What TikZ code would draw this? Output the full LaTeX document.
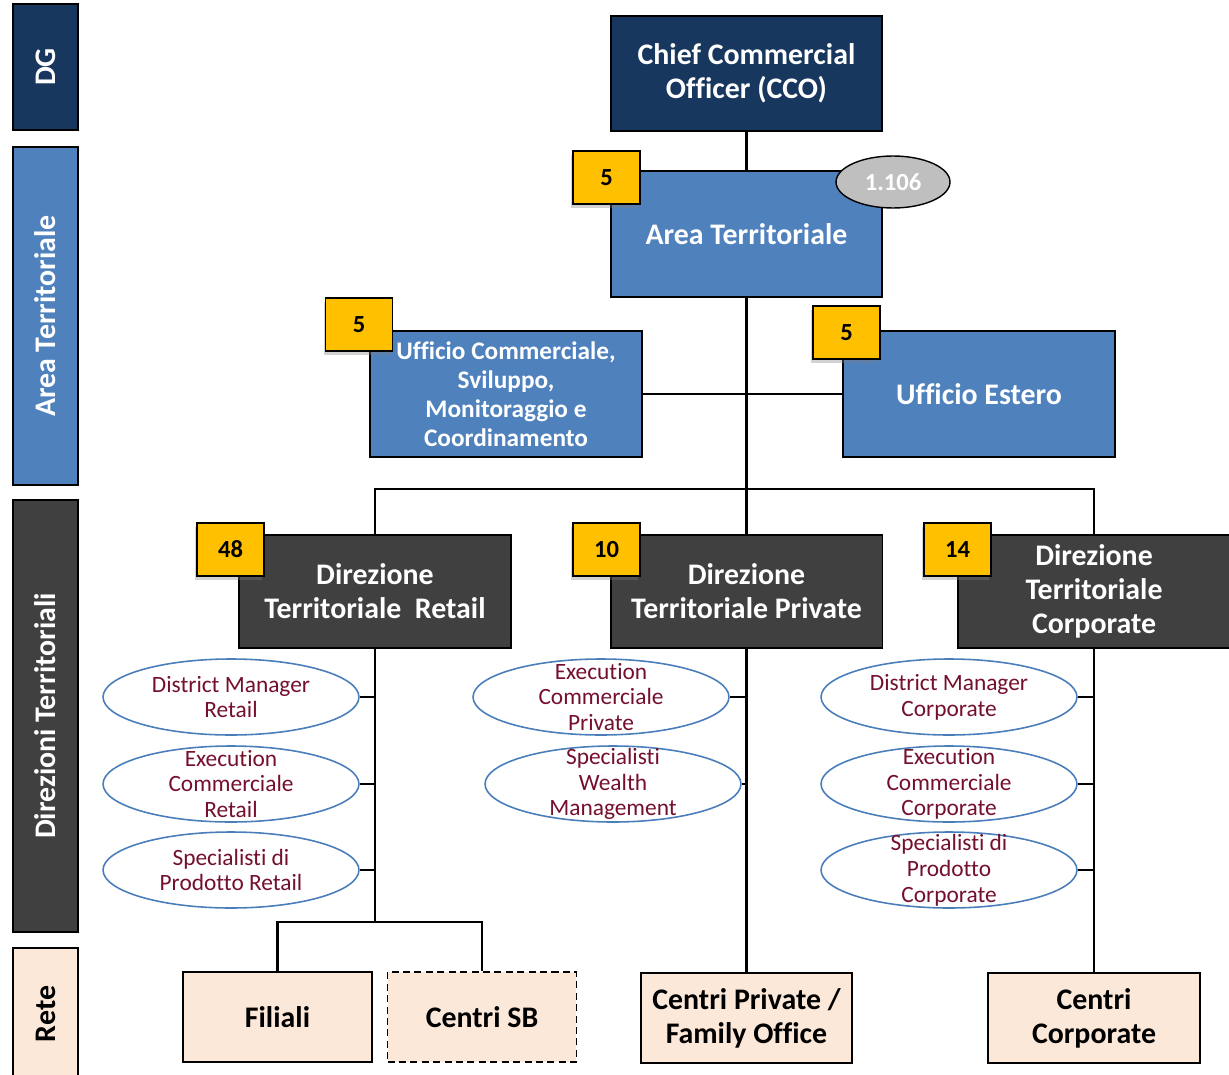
\documentclass[tikz,border=0pt]{standalone}
\usepackage{fontspec}
\setmainfont{Carlito}[Ligatures=NoCommon]
\usepackage{tikz}
\usetikzlibrary{shapes.geometric}
\usetikzlibrary{shadows}

\definecolor{navy}{HTML}{17375E}
\definecolor{azzurro}{HTML}{4F81BD}
\definecolor{grigio}{HTML}{404040}
\definecolor{pesca}{HTML}{FCE8D9}
\definecolor{giallo}{HTML}{FFC000}
\definecolor{bordoell}{HTML}{4A7EBB}
\definecolor{testoell}{HTML}{74102E}

\begin{document}
\begin{tikzpicture}[x=0.02cm,y=-0.02cm,
  box/.style={draw=black,line width=1.1pt,align=center,text=white,
    font=\bfseries\fontsize{17}{19.4}\selectfont,inner sep=2pt,
    minimum width=5.44cm},
  navybox/.style={box,fill=navy,minimum height=2.3cm},
  bluebox/.style={box,fill=azzurro,minimum height=2.52cm},
  greybox/.style={box,fill=grigio,minimum height=2.26cm},
  retebox/.style={box,fill=pesca,text=black,minimum width=3.78cm,minimum height=1.8cm},
  band/.style={draw=black,line width=1.1pt,rotate=90,text=white,
    font=\bfseries\fontsize{17}{19.4}\selectfont,minimum height=1.3cm},
  badge/.style={draw=black,line width=1.1pt,fill=giallo,
    font=\bfseries\fontsize{14}{16}\selectfont,
    minimum width=1.34cm,minimum height=1.06cm,
    drop shadow={shadow xshift=-1pt,shadow yshift=-2pt,opacity=0.35}},
  ruolo/.style={ellipse,draw=bordoell,line width=0.9pt,fill=white,
    minimum width=5.12cm,minimum height=1.52cm},
  ruolotxt/.style={align=center,text=testoell,
    font=\fontsize{13.3}{14.7}\selectfont},
  linea/.style={draw=black,line width=1.3pt}]

\useasboundingbox (0,0) rectangle (1229,1074);
\fill[white] (0,0) rectangle (1229,1074);

% fasce a sinistra
\node (bdg) at (45.5,67) [band,fill=navy,minimum width=2.52cm] {DG};
\node (bat) at (45.5,316) [band,fill=azzurro,minimum width=6.76cm] {Area Territoriale};
\node (bdt) at (45.5,716) [band,fill=grigio,minimum width=8.64cm] {Direzioni Territoriali};
\node (bre) at (45.5,1014) [band,fill=pesca,text=black,minimum width=2.64cm] {Rete};

% vertice
\node (cco) at (746.5,73.5) [navybox,minimum width=5.42cm] {Chief Commercial\\Officer (CCO)};
\node (areat) at (746.5,234) [bluebox,minimum width=5.42cm] {Area Territoriale};
\node (uffcom) at (506,394) [bluebox,font=\bfseries\fontsize{14.4}{16.4}\selectfont]
  {Ufficio Commerciale,\\Sviluppo,\\Monitoraggio e\\Coordinamento};
\node (uffest) at (979,394) [bluebox] {Ufficio Estero};
\node (tot) at (893,182) [ellipse,draw=black,line width=0.8pt,fill=black!25,text=white,
  font=\bfseries\fontsize{14}{16}\selectfont,minimum width=2.28cm,minimum height=1.04cm] {1.106};

% direzioni
\node (dirret) at (375,591.5) [greybox] {Direzione\\Territoriale\ \ Retail};
\node (dirpri) at (746.5,591.5) [greybox] {Direzione\\Territoriale Private};
\node (dircor) at (1094,591.5) [greybox] {Direzione\\Territoriale\\Corporate};

% rete
\node (filiali) at (277.5,1017) [retebox] {Filiali};
\node (centrisb) at (482,1017) [retebox,dash pattern=on 4pt off 2.5pt] {Centri SB};
\node (centripri) at (746.5,1018) [retebox,minimum width=4.22cm] {Centri Private /\\Family Office};
\node (centricor) at (1094,1018) [retebox,minimum width=4.24cm] {Centri\\Corporate};

% collegamenti
\coordinate (barra) at (746.5,489);
\coordinate (retnodo) at (375,922);
\draw[linea] (cco.south) -- (areat.north);
\draw[linea] (areat.south) -- (dirpri.north);
\draw[linea] (uffcom.east) -- (uffest.west);
\draw[linea] (dirret.north) |- (barra) -| (dircor.north);
\draw[linea] (dirret.south) -- (retnodo);
\draw[linea] (filiali.north) |- (retnodo) -| (centrisb.north);
\draw[linea] (dirpri.south) -- (centripri.north);
\draw[linea] (dircor.south) -- (centricor.north);

% ruoli retail
\foreach \y/\n/\t in {697/r1/{District Manager\\Retail},
                      784/r2/{Execution\\Commerciale\\Retail},
                      870/r3/{Specialisti di\\Prodotto Retail}} {
  \node (\n) at (231,\y) [ruolo,label={[ruolotxt]center:\t}] {};
  \draw[linea] (\n.east) -- (\n.east -| dirret.south);
}

% ruoli private
\foreach \x/\y/\n/\t in {601/697/p1/{Execution\\Commerciale\\Private},
                         613/784/p2/{Specialisti\\Wealth\\Management}} {
  \node (\n) at (\x,\y) [ruolo,label={[ruolotxt]center:\t}] {};
  \draw[linea] (\n.east) -- (\n.east -| dirpri.south);
}

% ruoli corporate
\foreach \y/\n/\t in {697/c1/{District Manager\\Corporate},
                      784/c2/{Execution\\Commerciale\\Corporate},
                      870/c3/{Specialisti di\\Prodotto\\Corporate}} {
  \node (\n) at (949,\y) [ruolo,label={[ruolotxt]center:\t}] {};
  \draw[linea] (\n.east) -- (\n.east -| dircor.south);
}

% numeri
\node (nat) at (606.5,177.5) [badge] {5};
\node (nuc) at (359,324.5) [badge] {5};
\node (nue) at (846.5,332.5) [badge] {5};
\node (nret) at (230.5,549.5) [badge] {48};
\node (npri) at (606.5,549.5) [badge] {10};
\node (ncor) at (957.5,549.5) [badge] {14};

\end{tikzpicture}
\end{document}
